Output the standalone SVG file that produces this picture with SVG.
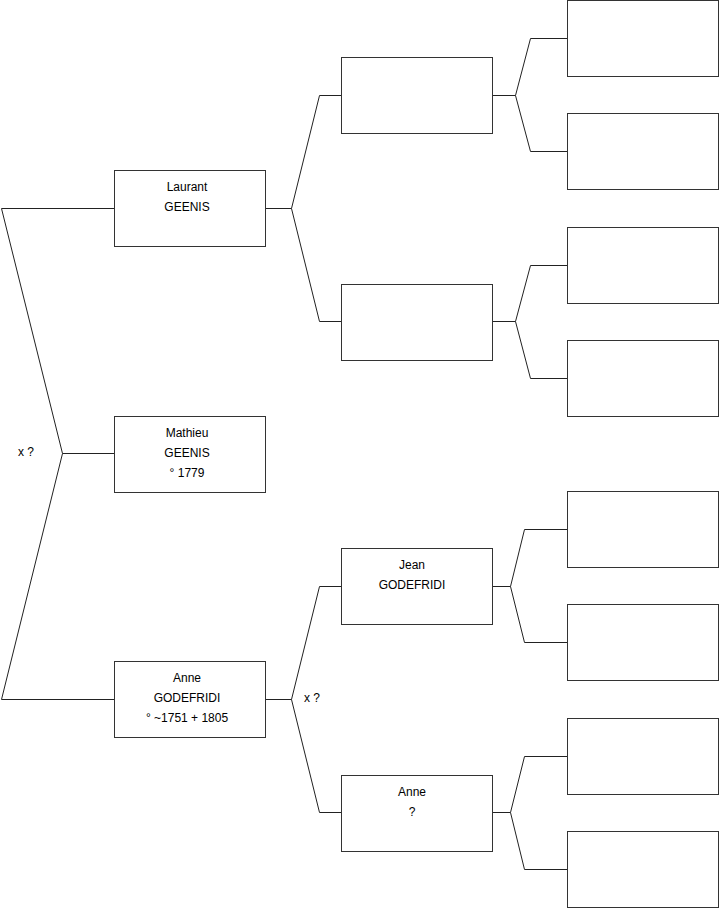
<svg xmlns="http://www.w3.org/2000/svg" width="719" height="908" viewBox="0 0 719 908">
<style>
.box{fill:#fff;stroke:#333;stroke-width:1}
.ln{fill:none;stroke:#222;stroke-width:1}
text{font-family:"Liberation Sans",Arial,sans-serif;font-size:12px;fill:#000;text-anchor:middle}
.lbl{text-anchor:start}
</style>
<rect width="719" height="908" fill="#fff"/>
<g id="connectors">
<polyline class="ln" points="114,208.5 1.5,208.5 62.5,453.5 1.5,699.5 114,699.5"/>
<line class="ln" x1="62.5" y1="453.5" x2="114" y2="453.5"/>
<polyline class="ln" points="265,208.5 291.5,208.5"/>
<polyline class="ln" points="341,95.5 319.5,95.5 291.5,208.5 319.5,321.5 341,321.5"/>
<polyline class="ln" points="265,699.5 291.5,699.5"/>
<polyline class="ln" points="341,586.5 319.5,586.5 291.5,699.5 319.5,812.5 341,812.5"/>
<polyline class="ln" points="492,95.5 515.5,95.5"/>
<polyline class="ln" points="567,38.5 530.5,38.5 515.5,95.5 530.5,151.5 567,151.5"/>
<polyline class="ln" points="492,321.5 515.5,321.5"/>
<polyline class="ln" points="567,265.5 530.5,265.5 515.5,321.5 530.5,378.5 567,378.5"/>
<polyline class="ln" points="492,586.5 510.5,586.5"/>
<polyline class="ln" points="567,529.5 524.5,529.5 510.5,586.5 524.5,642.5 567,642.5"/>
<polyline class="ln" points="492,812.5 510.5,812.5"/>
<polyline class="ln" points="567,756.5 524.5,756.5 510.5,812.5 524.5,869.5 567,869.5"/>
<text class="lbl" x="18" y="456">x ?</text>
<text class="lbl" x="304" y="702">x ?</text>
</g>
<g id="laurant"><rect class="box" x="114.5" y="170.5" width="151" height="76"/><text x="187" y="191">Laurant</text><text x="187" y="211">GEENIS</text></g>
<g id="mathieu"><rect class="box" x="114.5" y="416.5" width="151" height="76"/><text x="187" y="437">Mathieu</text><text x="187" y="457">GEENIS</text><text x="187" y="477">° 1779</text></g>
<g id="anne1"><rect class="box" x="114.5" y="661.5" width="151" height="76"/><text x="187" y="682">Anne</text><text x="187" y="702">GODEFRIDI</text><text x="187" y="722">° ~1751 + 1805</text></g>
<g id="g2a"><rect class="box" x="341.5" y="57.5" width="151" height="76"/></g>
<g id="g2b"><rect class="box" x="341.5" y="284.5" width="151" height="76"/></g>
<g id="jean"><rect class="box" x="341.5" y="548.5" width="151" height="76"/><text x="412" y="569">Jean</text><text x="412" y="589">GODEFRIDI</text></g>
<g id="anne2"><rect class="box" x="341.5" y="775.5" width="151" height="76"/><text x="412" y="796">Anne</text><text x="412" y="816">?</text></g>
<g id="g3a"><rect class="box" x="567.5" y="0.5" width="151" height="76"/></g>
<g id="g3b"><rect class="box" x="567.5" y="113.5" width="151" height="76"/></g>
<g id="g3c"><rect class="box" x="567.5" y="227.5" width="151" height="76"/></g>
<g id="g3d"><rect class="box" x="567.5" y="340.5" width="151" height="76"/></g>
<g id="g3e"><rect class="box" x="567.5" y="491.5" width="151" height="76"/></g>
<g id="g3f"><rect class="box" x="567.5" y="604.5" width="151" height="76"/></g>
<g id="g3g"><rect class="box" x="567.5" y="718.5" width="151" height="76"/></g>
<g id="g3h"><rect class="box" x="567.5" y="831.5" width="151" height="76"/></g>
</svg>
